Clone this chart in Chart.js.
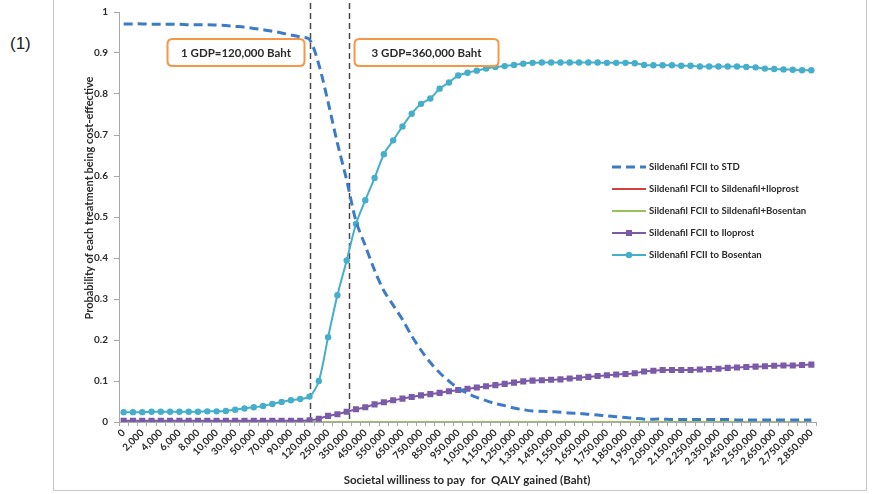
<!DOCTYPE html>
<html>
<head>
<meta charset="utf-8">
<script src="https://cdn.jsdelivr.net/npm/chart.js@4.4.1/dist/chart.umd.min.js"></script>
<style>
  html, body { margin: 0; padding: 0; background: #fff; width: 879px; height: 494px; overflow: hidden; }
  #frame { position: absolute; left: 53px; top: -2px; width: 812px; height: 491px; border: 1px solid #c9c9c9; }
  #tag { position: absolute; left: 10px; top: 34px; font: 17px "Liberation Sans", Arial, sans-serif; color: #222; }
  #wrap { position: absolute; left: 0; top: 0; width: 879px; height: 494px; }
</style>
</head>
<body>
<div id="frame"></div>
<div id="tag">(1)</div>
<div id="wrap"><canvas id="c" width="879" height="494"></canvas></div>
<script>
// Willingness-to-pay thresholds (Baht per QALY gained)
const wtp = [
  0, 1000, 2000, 3000, 4000, 5000, 6000, 7000, 8000, 9000, 10000,
  20000, 30000, 40000, 50000, 60000, 70000, 80000, 90000, 100000, 120000, 200000,
  250000, 300000, 350000, 400000, 450000, 500000, 550000, 600000, 650000, 700000,
  750000, 800000, 850000, 900000, 950000, 1000000, 1050000, 1100000, 1150000, 1200000,
  1250000, 1300000, 1350000, 1400000, 1450000, 1500000, 1550000, 1600000, 1650000, 1700000,
  1750000, 1800000, 1850000, 1900000, 1950000, 2000000, 2050000, 2100000, 2150000, 2200000,
  2250000, 2300000, 2350000, 2400000, 2450000, 2500000, 2550000, 2600000, 2650000, 2700000,
  2750000, 2800000, 2850000
];
const xLabels = wtp.map(v => v.toLocaleString('en-US'));

// Probability of being cost-effective, per comparator
const toSTD = [
  0.971, 0.971, 0.971, 0.970, 0.970, 0.970, 0.970, 0.969, 0.969, 0.969, 0.968,
  0.967, 0.965, 0.963, 0.960, 0.957, 0.953, 0.949, 0.944, 0.939, 0.933,
  0.872, 0.780, 0.680, 0.590, 0.490, 0.430, 0.370, 0.320, 0.285, 0.250,
  0.210, 0.175, 0.145, 0.120, 0.100, 0.082, 0.070, 0.060, 0.052, 0.045,
  0.040, 0.034, 0.030, 0.027, 0.026, 0.025, 0.024, 0.022, 0.021, 0.019,
  0.017, 0.015, 0.013, 0.011, 0.009, 0.007, 0.007, 0.007, 0.006, 0.006,
  0.006, 0.006, 0.006, 0.006, 0.006, 0.005, 0.005, 0.005, 0.005, 0.005,
  0.005, 0.005, 0.005, 0.005
];
const toSildIloprost = wtp.map(() => 0);
const toSildBosentan = wtp.map(() => 0);
const toIloprost = [
  0.003, 0.003, 0.003, 0.003, 0.003, 0.003, 0.003, 0.003, 0.003, 0.003, 0.003,
  0.003, 0.003, 0.003, 0.003, 0.003, 0.003, 0.003, 0.003, 0.003, 0.004,
  0.008, 0.015, 0.019, 0.025, 0.031, 0.036, 0.043, 0.048, 0.053, 0.057,
  0.061, 0.065, 0.068, 0.071, 0.075, 0.078, 0.081, 0.084, 0.087, 0.090,
  0.093, 0.096, 0.099, 0.101, 0.102, 0.103, 0.104, 0.106, 0.108, 0.110,
  0.112, 0.114, 0.116, 0.117, 0.119, 0.123, 0.125, 0.127, 0.127, 0.127,
  0.127, 0.128, 0.129, 0.130, 0.132, 0.133, 0.134, 0.135, 0.136, 0.137,
  0.138, 0.138, 0.139, 0.140
];
const toBosentan = [
  0.024, 0.024, 0.024, 0.025, 0.025, 0.025, 0.025, 0.025, 0.025, 0.026, 0.026,
  0.027, 0.030, 0.033, 0.036, 0.039, 0.044, 0.049, 0.053, 0.056, 0.062,
  0.100, 0.207, 0.309, 0.394, 0.483, 0.541, 0.595, 0.653, 0.687, 0.721,
  0.752, 0.776, 0.789, 0.813, 0.828, 0.845, 0.852, 0.857, 0.862, 0.866,
  0.868, 0.871, 0.874, 0.876, 0.877, 0.877, 0.877, 0.877, 0.877, 0.877,
  0.877, 0.876, 0.876, 0.876, 0.875, 0.871, 0.870, 0.870, 0.870, 0.869,
  0.869, 0.867, 0.867, 0.867, 0.867, 0.867, 0.866, 0.865, 0.862, 0.861,
  0.860, 0.859, 0.858, 0.858
];

// GDP-based thresholds marked on the chart
const gdpThresholds = [120000, 360000];
const gdpLabels = ['1 GDP=120,000 Baht', '3 GDP=360,000 Baht'];

const seriesNames = [
  'Sildenafil FCII to STD',
  'Sildenafil FCII to Sildenafil+Iloprost',
  'Sildenafil FCII to Sildenafil+Bosentan',
  'Sildenafil FCII to Iloprost',
  'Sildenafil FCII to Bosentan'
];

const FONT = 'Lato, "Open Sans", sans-serif';
const TEXT = '#2b2b2b';

// Pixel of an arbitrary WTP value, interpolated between neighbouring categories
function wtpPixel(xs, v) {
  const i = wtp.findIndex(w => w >= v);
  if (wtp[i] === v) return xs.getPixelForValue(i);
  const f = (v - wtp[i - 1]) / (wtp[i] - wtp[i - 1]);
  const p0 = xs.getPixelForValue(i - 1), p1 = xs.getPixelForValue(i);
  return p0 + f * (p1 - p0);
}

function roundRect(ctx, x, y, w, h, r) {
  ctx.beginPath();
  ctx.moveTo(x + r, y);
  ctx.lineTo(x + w - r, y); ctx.quadraticCurveTo(x + w, y, x + w, y + r);
  ctx.lineTo(x + w, y + h - r); ctx.quadraticCurveTo(x + w, y + h, x + w - r, y + h);
  ctx.lineTo(x + r, y + h); ctx.quadraticCurveTo(x, y + h, x, y + h - r);
  ctx.lineTo(x, y + r); ctx.quadraticCurveTo(x, y, x + r, y);
  ctx.closePath();
}

const decorations = {
  id: 'decorations',
  beforeDatasetsDraw(chart) {
    const { ctx, chartArea: a, scales: { x } } = chart;
    ctx.save();
    ctx.strokeStyle = '#4a4a4a';
    ctx.lineWidth = 1.5;
    ctx.setLineDash([6, 4]);
    gdpThresholds.forEach(v => {
      const px = Math.round(wtpPixel(x, v)) + 0.5;
      ctx.beginPath();
      ctx.moveTo(px, a.top - 9);
      ctx.lineTo(px, a.bottom);
      ctx.stroke();
    });
    ctx.restore();
  },
  afterDatasetsDraw(chart) {
    const { ctx, chartArea: a, scales: { x } } = chart;
    ctx.save();

    // threshold call-out boxes
    const l1 = wtpPixel(x, gdpThresholds[0]);
    const l2 = wtpPixel(x, gdpThresholds[1]);
    const boxes = [
      { x: l1 - 142, w: 137, text: gdpLabels[0] },
      { x: l2 + 6, w: 144, text: gdpLabels[1] }
    ];
    boxes.forEach(b => {
      const y0 = a.top + 27, h = 27;
      roundRect(ctx, b.x, y0, b.w, h, 5);
      ctx.fillStyle = '#fff';
      ctx.fill();
      ctx.strokeStyle = '#F79646';
      ctx.lineWidth = 2;
      ctx.stroke();
      ctx.fillStyle = TEXT;
      ctx.font = 'bold 11.5px ' + FONT;
      ctx.textAlign = 'center';
      ctx.textBaseline = 'middle';
      ctx.fillText(b.text, b.x + b.w / 2, y0 + h / 2 + 1);
    });

    // legend
    const lx = a.right - 204, ly = a.top + 155, gap = 22;
    chart.data.datasets.forEach((ds, i) => {
      const yy = ly + i * gap;
      ctx.strokeStyle = ds.borderColor;
      ctx.lineWidth = ds.borderWidth;
      ctx.setLineDash(ds.borderDash || []);
      ctx.beginPath();
      ctx.moveTo(lx, yy);
      ctx.lineTo(lx + 34, yy);
      ctx.stroke();
      ctx.setLineDash([]);
      if (ds.pointRadius > 0) {
        ctx.fillStyle = ds.pointBackgroundColor;
        if (ds.pointStyle === 'rect') {
          ctx.fillRect(lx + 17 - 3, yy - 3, 6, 6);
        } else {
          ctx.beginPath();
          ctx.arc(lx + 17, yy, 3.2, 0, Math.PI * 2);
          ctx.fill();
        }
      }
      ctx.fillStyle = TEXT;
      ctx.font = 'bold 9.6px ' + FONT;
      ctx.textAlign = 'left';
      ctx.textBaseline = 'middle';
      ctx.fillText(ds.label, lx + 37, yy);
    });

    // axis titles
    ctx.fillStyle = TEXT;
    ctx.font = 'bold 11px ' + FONT;
    ctx.textAlign = 'center';
    ctx.textBaseline = 'middle';
    ctx.save();
    ctx.translate(89, (a.top + a.bottom) / 2 - 19);
    ctx.rotate(-Math.PI / 2);
    ctx.fillText('Probability of each treatment being cost-effective', 0, 0);
    ctx.restore();
    ctx.font = 'bold 11.5px ' + FONT;
    ctx.fillText('Societal williness to pay  for  QALY gained (Baht)', 467, a.bottom + 58);

    ctx.restore();
  }
};

new Chart(document.getElementById('c'), {
  type: 'line',
  data: {
    labels: xLabels,
    datasets: [
      { label: seriesNames[0], data: toSTD, borderColor: '#3D7BC6', backgroundColor: '#3D7BC6',
        borderWidth: 3, borderDash: [9, 5], pointRadius: 0, tension: 0.3, order: 1 },
      { label: seriesNames[1], data: toSildIloprost, borderColor: '#D0433D', backgroundColor: '#D0433D',
        borderWidth: 2, pointRadius: 0, tension: 0, order: 5 },
      { label: seriesNames[2], data: toSildBosentan, borderColor: '#9BC25A', backgroundColor: '#9BC25A',
        borderWidth: 2, pointRadius: 0, tension: 0, order: 4 },
      { label: seriesNames[3], data: toIloprost, borderColor: '#7B5BA8', backgroundColor: '#7B5BA8',
        pointBackgroundColor: '#7B5BA8', pointBorderColor: '#7B5BA8', pointStyle: 'rect',
        borderWidth: 2, pointRadius: 4.3, pointBorderWidth: 0, tension: 0.3, order: 3 },
      { label: seriesNames[4], data: toBosentan, borderColor: '#45AECB', backgroundColor: '#45AECB',
        pointBackgroundColor: '#45AECB', pointBorderColor: '#45AECB', pointStyle: 'circle',
        borderWidth: 2, pointRadius: 3.2, pointBorderWidth: 0, tension: 0.3, order: 2 }
    ]
  },
  options: {
    responsive: false,
    animation: false,
    devicePixelRatio: 1,
    layout: { padding: { left: 0, top: 9, right: 63, bottom: 0 } },
    plugins: { legend: { display: false }, tooltip: { enabled: false } },
    scales: {
      x: {
        type: 'category',
        offset: true,
        grid: { display: true, drawOnChartArea: false, offset: true, tickLength: 4, color: '#a8a8a8' },
        border: { display: true, color: '#a8a8a8', width: 1 },
        ticks: {
          autoSkip: false, maxRotation: 45, minRotation: 45, padding: 1,
          color: TEXT, font: { family: FONT, weight: 'bold', size: 10 },
          callback: (v, i) => (i % 2 === 0 ? xLabels[i] : '')
        },
        afterFit: s => { s.height = 72; }
      },
      y: {
        min: 0, max: 1,
        grid: { display: true, drawOnChartArea: false, tickLength: 5, color: '#a8a8a8' },
        border: { display: true, color: '#a8a8a8', width: 1 },
        ticks: {
          stepSize: 0.1, padding: 6, color: TEXT,
          font: { family: FONT, weight: 'bold', size: 10 },
          callback: v => String(Math.round(v * 10) / 10)
        },
        afterFit: s => { s.width = 119; }
      }
    }
  },
  plugins: [decorations]
});
</script>
</body>
</html>
